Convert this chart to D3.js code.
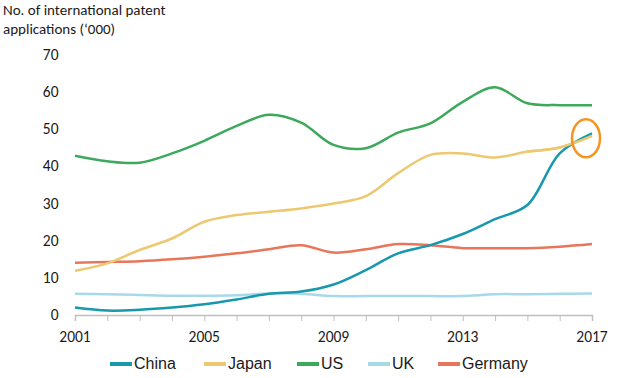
<!DOCTYPE html>
<html>
<head>
<meta charset="utf-8">
<script src="https://cdn.jsdelivr.net/npm/d3@7"></script>
<style>
  body { margin: 0; background: #fff; }
  text { font-family: Carlito, Calibri, "Open Sans", sans-serif; fill: #1a1a1a; }
</style>
</head>
<body>
<div id="chart"></div>
<script>
// data
let years = [2001, 2002, 2003, 2004, 2005, 2006, 2007, 2008, 2009, 2010, 2011, 2012, 2013, 2014, 2015, 2016, 2017];
let china = [2.0, 1.2, 1.4, 2.0, 2.9, 4.2, 5.7, 6.3, 8.2, 12.1, 16.6, 18.8, 21.8, 25.8, 29.6, 43.5, 48.9];
let japan = [11.9, 13.9, 17.5, 20.6, 25.1, 26.9, 27.8, 28.7, 30.0, 32.0, 38.2, 43.1, 43.5, 42.4, 44.0, 45.1, 48.2];
let us = [42.9, 41.4, 41.0, 43.5, 46.9, 50.9, 53.9, 51.8, 45.8, 44.9, 49.1, 51.6, 57.4, 61.3, 57.0, 56.5, 56.5];
let uk = [5.7, 5.6, 5.4, 5.2, 5.2, 5.3, 5.8, 5.7, 5.1, 5.1, 5.1, 5.1, 5.1, 5.6, 5.6, 5.7, 5.8];
let germany = [14.1, 14.3, 14.5, 15.0, 15.7, 16.6, 17.7, 18.8, 16.8, 17.7, 19.1, 18.8, 18.0, 18.0, 18.0, 18.4, 19.1];
let yTicks = [0, 10, 20, 30, 40, 50, 60, 70];
let xLabels = [2001, 2005, 2009, 2013, 2017];

let series = [
  { name: 'China', values: china, color: '#1798ad' },
  { name: 'Japan', values: japan, color: '#ecc870' },
  { name: 'US', values: us, color: '#3da95c' },
  { name: 'UK', values: uk, color: '#a7dae6' },
  { name: 'Germany', values: germany, color: '#e8765a' }
];

let width = 620, height = 378;
let svg = d3.select('#chart').append('svg')
  .attr('width', width)
  .attr('height', height);

let xScale = d3.scaleLinear().domain([2001, 2017]).range([75, 592]);
let yScale = d3.scaleLinear().domain([0, 70]).range([315, 55]);

// title, two lines
svg.append('text')
  .attr('x', 3).attr('y', 15)
  .attr('font-size', '15px')
  .text('No. of international patent');
svg.append('text')
  .attr('x', 3).attr('y', 33.5)
  .attr('font-size', '15px')
  .text('applications (\u2018000)');

// y labels, no axis line
svg.selectAll('.ylab')
  .data(yTicks)
  .enter()
  .append('text')
  .attr('class', 'ylab')
  .attr('x', 58.5)
  .attr('y', d => yScale(d) + 5)
  .attr('text-anchor', 'end')
  .attr('font-size', '15.5px')
  .text(d => d);

// x axis
let xAxis = d3.axisBottom(xScale)
  .tickValues(years)
  .tickSize(6)
  .tickFormat('');
let gx = svg.append('g')
  .attr('transform', 'translate(0,' + yScale(0) + ')')
  .call(xAxis);
gx.select('.domain').attr('stroke', '#bfbfbf').attr('stroke-width', 1.5);
gx.selectAll('.tick line').attr('stroke', '#bfbfbf');

svg.selectAll('.xlab')
  .data(xLabels)
  .enter()
  .append('text')
  .attr('class', 'xlab')
  .attr('x', d => xScale(d))
  .attr('y', 342)
  .attr('text-anchor', 'middle')
  .attr('font-size', '15.5px')
  .text(d => d);

// lines
let line = d3.line()
  .x((d, i) => xScale(years[i]))
  .y(d => yScale(d))
  .curve(d3.curveCatmullRom.alpha(0.5));

let drawOrder = ['UK', 'Germany', 'US', 'Japan', 'China'];
drawOrder.forEach(n => {
  let s = series.find(d => d.name === n);
  svg.append('path')
    .datum(s.values)
    .attr('fill', 'none')
    .attr('stroke', s.color)
    .attr('stroke-width', 2.5)
    .attr('d', line);
});
// Japan on top at the end like the reference
svg.append('path')
  .datum(japan.slice(14))
  .attr('fill', 'none')
  .attr('stroke', '#ecc870')
  .attr('stroke-width', 2.5)
  .attr('d', d3.line()
    .x((d, i) => xScale(years[i + 14]))
    .y(d => yScale(d))
    .curve(d3.curveCatmullRom.alpha(0.5)));

// annotation ellipse around 2017
svg.append('ellipse')
  .attr('cx', xScale(2017) - 6)
  .attr('cy', yScale(47.6))
  .attr('rx', 14)
  .attr('ry', 19)
  .attr('fill', 'none')
  .attr('stroke', '#f7941d')
  .attr('stroke-width', 2.5);

// legend
let legendX = [110, 204, 297, 368, 438];
let legend = svg.selectAll('.leg')
  .data(series)
  .enter()
  .append('g')
  .attr('class', 'leg')
  .attr('transform', (d, i) => 'translate(' + legendX[i] + ',364)');
legend.append('line')
  .attr('x1', 0).attr('x2', 22)
  .attr('stroke', d => d.color)
  .attr('stroke-width', 4);
legend.append('text')
  .attr('x', 24)
  .attr('y', 5)
  .attr('font-size', '16px')
  .style('font-family', '"Liberation Sans", Arial, sans-serif')
  .text(d => d.name);
</script>
</body>
</html>
